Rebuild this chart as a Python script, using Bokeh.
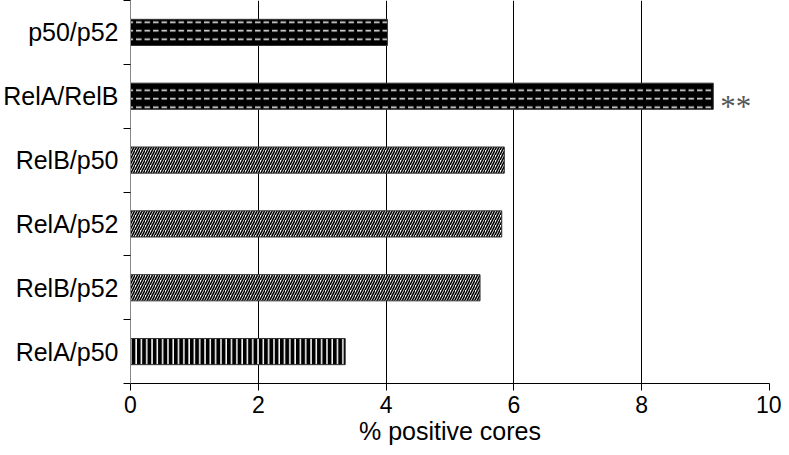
from bokeh.plotting import figure
from bokeh.models import ColumnDataSource, FixedTicker, Range1d
from bokeh.core.properties import value
from bokeh.embed import file_html
from bokeh.resources import INLINE

# Data (top to bottom as in the chart)
categories = ["p50/p52", "RelA/RelB", "RelB/p50", "RelA/p52", "RelB/p52", "RelA/p50"]
values = [4.02, 9.12, 5.85, 5.81, 5.47, 3.36]
annotations = ["", "**", "", "", "", ""]
x_ticks = [0, 2, 4, 6, 8, 10]

# Styles per bar group
pattern_style = {
    "p50/p52": dict(fill="black", hatch="horizontal_dash", hcolor="#e8e8e8", scale=8.5, weight=1.6),
    "RelA/RelB": dict(fill="black", hatch="horizontal_dash", hcolor="#e8e8e8", scale=8.5, weight=1.6),
    "RelB/p50": dict(fill="white", hatch="right_diagonal_line", hcolor="black", scale=5.0, weight=1.6),
    "RelA/p52": dict(fill="white", hatch="right_diagonal_line", hcolor="black", scale=5.0, weight=1.6),
    "RelB/p52": dict(fill="white", hatch="right_diagonal_line", hcolor="black", scale=5.0, weight=1.6),
    "RelA/p50": dict(fill="black", hatch="vertical_line", hcolor="white", scale=5.3, weight=1.5),
}

n = len(categories)
y_pos = [n - i - 0.5 for i in range(n)]

src = ColumnDataSource(dict(
    cat=categories,
    y=y_pos,
    v=values,
    ann=annotations,
    fill=[pattern_style[c]["fill"] for c in categories],
    hatch=[pattern_style[c]["hatch"] for c in categories],
    hcolor=[pattern_style[c]["hcolor"] for c in categories],
    hscale=[pattern_style[c]["scale"] for c in categories],
    hweight=[pattern_style[c]["weight"] for c in categories],
))

FONT = "Liberation Sans"

p = figure(width=781, height=447, output_backend="svg", toolbar_location=None,
           x_range=Range1d(0, 10), y_range=Range1d(0, n),
           min_border_left=130, min_border_right=12, min_border_top=0, min_border_bottom=62)
p.outline_line_color = None
p.background_fill_color = "white"
p.border_fill_color = "white"

p.hbar(y="y", right="v", left=0, height=0.41, source=src,
       fill_color="fill", line_color="#333333", line_width=1,
       hatch_pattern="hatch", hatch_color="hcolor", hatch_scale="hscale", hatch_weight="hweight")

p.text(x="v", y="y", text="ann", source=src, x_offset=7, y_offset=10,
       text_font=value("Liberation Serif"), text_font_size="31px",
       text_color="#555555", text_baseline="middle", text_align="left")

# x axis
p.xaxis.ticker = FixedTicker(ticks=x_ticks)
p.xaxis.axis_line_color = "black"
p.xaxis.major_tick_line_color = "black"
p.xaxis.major_tick_out = 7
p.xaxis.major_tick_in = 0
p.xaxis.minor_tick_line_color = None
p.xaxis.major_label_text_font = FONT
p.xaxis.major_label_text_font_size = "23px"
p.xaxis.major_label_text_color = "black"
p.xaxis.major_label_standoff = 5
p.xaxis.axis_label = "% positive cores"
p.xaxis.axis_label_text_font = FONT
p.xaxis.axis_label_text_font_size = "25px"
p.xaxis.axis_label_text_font_style = "normal"
p.xaxis.axis_label_text_color = "black"
p.xaxis.axis_label_standoff = 1

# y axis: labels at category centres, ticks at category boundaries
p.yaxis.ticker = FixedTicker(ticks=y_pos, minor_ticks=list(range(n + 1)))
p.yaxis.major_label_overrides = {float(y): c for y, c in zip(y_pos, categories)}
p.yaxis.axis_line_color = "#888888"
p.yaxis.major_tick_out = 0
p.yaxis.major_tick_in = 0
p.yaxis.minor_tick_out = 7
p.yaxis.minor_tick_in = 0
p.yaxis.minor_tick_line_color = "black"
p.yaxis.major_label_text_font = FONT
p.yaxis.major_label_text_font_size = "25px"
p.yaxis.major_label_text_color = "black"
p.yaxis.major_label_standoff = 5

p.xgrid.ticker = FixedTicker(ticks=x_ticks)
p.xgrid.grid_line_color = "black"
p.xgrid.grid_line_width = 1
p.ygrid.grid_line_color = None

open("out.html", "w").write(file_html(p, INLINE))
